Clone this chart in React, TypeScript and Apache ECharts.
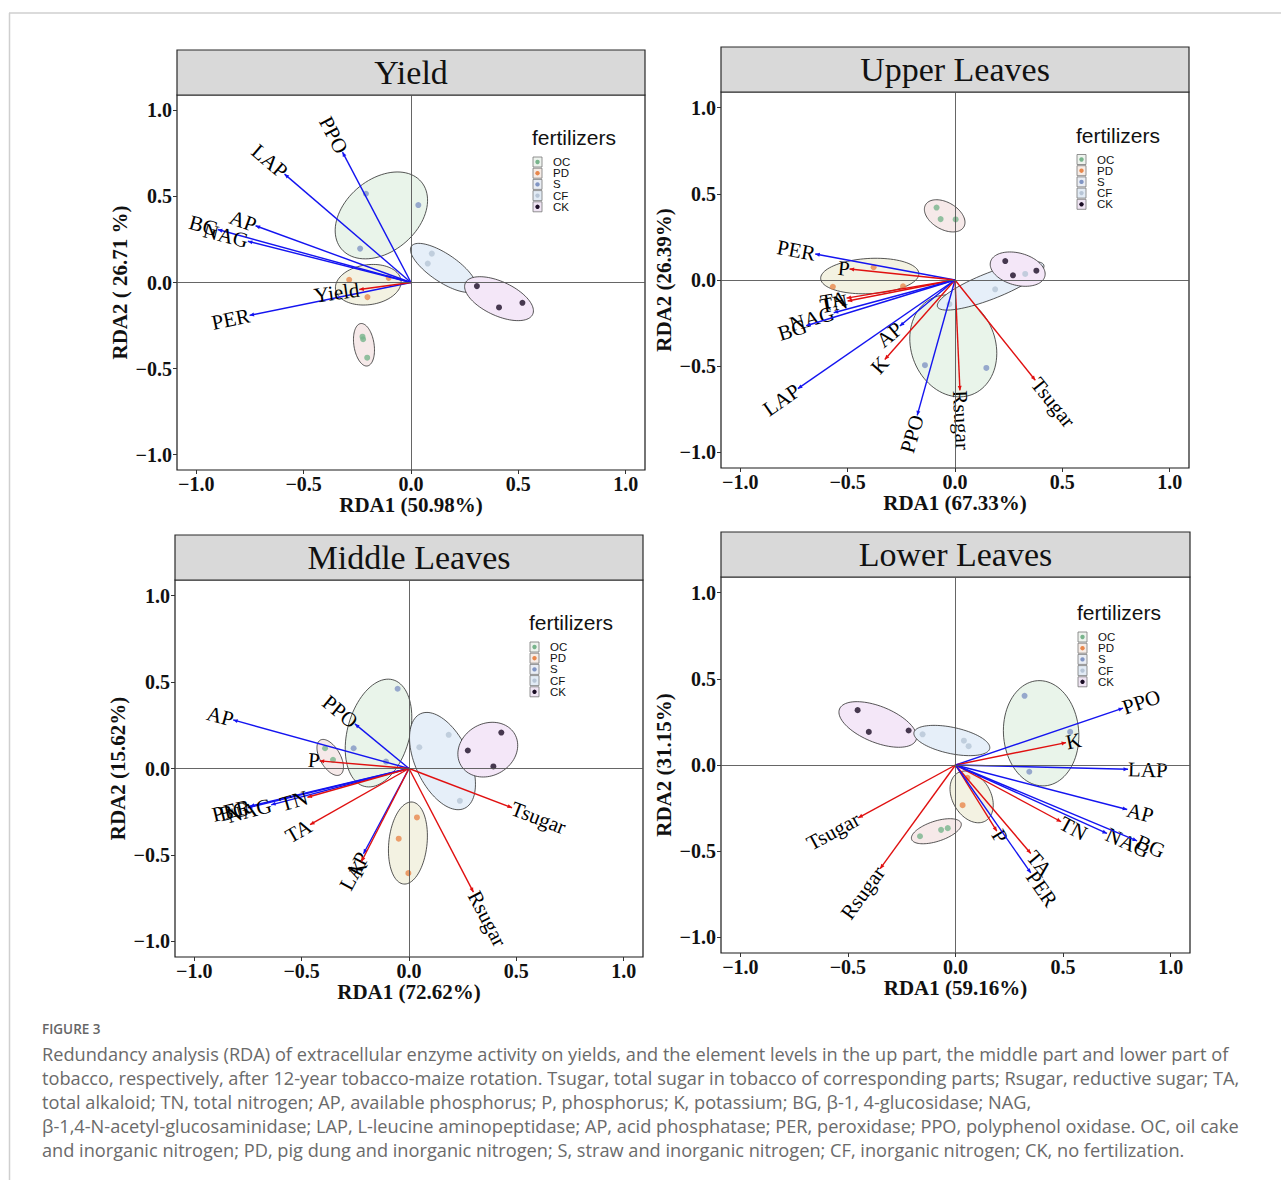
import React, { useEffect, useRef } from 'react';
import * as echarts from 'echarts';

// ---------- data ----------
const groups = ['OC', 'PD', 'S', 'CF', 'CK'];
const tickValues = [-1, -0.5, 0, 0.5, 1];

const panelTitles = ['Yield', 'Upper Leaves', 'Middle Leaves', 'Lower Leaves'];
const xAxisTitles = ['RDA1 (50.98%)', 'RDA1 (67.33%)', 'RDA1 (72.62%)', 'RDA1 (59.16%)'];
const yAxisTitles = ['RDA2 ( 26.71 %)', 'RDA2 (26.39%)', 'RDA2 (15.62%)', 'RDA2 (31.15%)'];

// vectors: [label, RDA1, RDA2, kind]  kind E = enzyme (blue), R = response (red)
const yieldVectors: [string, number, number, string][] = [
  ['PPO', -0.319, 0.758, 'E'],
  ['LAP', -0.589, 0.63, 'E'],
  ['AP', -0.724, 0.33, 'E'],
  ['BG', -0.9, 0.308, 'E'],
  ['NAG', -0.76, 0.24, 'E'],
  ['PER', -0.752, -0.191, 'E'],
  ['Yield', -0.241, -0.041, 'R'],
];
const upperVectors: [string, number, number, string][] = [
  ['PER', -0.651, 0.151, 'E'],
  ['P', -0.491, 0.064, 'R'],
  ['TA', -0.505, -0.105, 'R'],
  ['TN', -0.5, -0.122, 'R'],
  ['NAG', -0.565, -0.19, 'E'],
  ['BG', -0.693, -0.265, 'E'],
  ['AP', -0.257, -0.267, 'E'],
  ['K', -0.327, -0.461, 'R'],
  ['LAP', -0.732, -0.63, 'E'],
  ['PPO', -0.176, -0.785, 'E'],
  ['Rsugar', 0.023, -0.64, 'R'],
  ['Tsugar', 0.374, -0.581, 'R'],
];
const middleVectors: [string, number, number, string][] = [
  ['AP', -0.819, 0.281, 'E'],
  ['PPO', -0.252, 0.258, 'E'],
  ['P', -0.416, 0.044, 'R'],
  ['PER', -0.741, -0.218, 'E'],
  ['BG', -0.751, -0.227, 'E'],
  ['NAG', -0.642, -0.21, 'E'],
  ['TN', -0.473, -0.166, 'R'],
  ['TA', -0.461, -0.325, 'R'],
  ['LAP', -0.212, -0.493, 'E'],
  ['K', -0.221, -0.538, 'R'],
  ['Tsugar', 0.48, -0.227, 'R'],
  ['Rsugar', 0.3, -0.715, 'R'],
];
const lowerVectors: [string, number, number, string][] = [
  ['PPO', 0.779, 0.33, 'E'],
  ['K', 0.514, 0.13, 'R'],
  ['LAP', 0.802, -0.025, 'E'],
  ['AP', 0.798, -0.258, 'E'],
  ['TN', 0.491, -0.329, 'R'],
  ['NAG', 0.704, -0.397, 'E'],
  ['BG', 0.844, -0.44, 'E'],
  ['P', 0.192, -0.384, 'R'],
  ['TA', 0.35, -0.513, 'R'],
  ['PER', 0.35, -0.626, 'E'],
  ['Tsugar', -0.452, -0.306, 'R'],
  ['Rsugar', -0.35, -0.601, 'R'],
];

// site scores: [fertilizer, RDA1, RDA2]
const yieldScores: [string, number, number][] = [
  ['S', -0.21, 0.516], ['S', 0.034, 0.45], ['S', -0.237, 0.197],
  ['CF', 0.097, 0.168], ['CF', 0.078, 0.11],
  ['CK', 0.307, -0.021], ['CK', 0.41, -0.145], ['CK', 0.519, -0.118],
  ['PD', -0.288, 0.016], ['PD', -0.104, 0.027], ['PD', -0.203, -0.085],
  ['OC', -0.226, -0.315], ['OC', -0.223, -0.33], ['OC', -0.204, -0.437],
];
const upperScores: [string, number, number][] = [
  ['OC', -0.086, 0.42], ['OC', -0.067, 0.353], ['OC', 0.003, 0.351],
  ['PD', -0.379, 0.074], ['PD', -0.569, -0.039], ['PD', -0.242, -0.037],
  ['S', -0.14, -0.494], ['S', 0.146, -0.51],
  ['CF', -0.026, -0.14], ['CF', 0.187, -0.054], ['CF', 0.327, 0.035],
  ['CK', 0.234, 0.11], ['CK', 0.27, 0.027], ['CK', 0.379, 0.054],
];
const middleScores: [string, number, number][] = [
  ['OC', -0.391, 0.117], ['OC', -0.354, 0.05],
  ['S', -0.053, 0.461], ['S', -0.258, 0.117], ['S', -0.107, 0.04],
  ['CF', 0.048, 0.123], ['CF', 0.185, 0.195], ['CF', 0.237, -0.187],
  ['CK', 0.274, 0.104], ['CK', 0.43, 0.208], ['CK', 0.393, 0.012],
  ['PD', 0.037, -0.283], ['PD', -0.048, -0.406], ['PD', -0.003, -0.605],
];
const lowerScores: [string, number, number][] = [
  ['CK', -0.455, 0.318], ['CK', -0.403, 0.192], ['CK', -0.218, 0.2],
  ['CF', -0.153, 0.178], ['CF', 0.039, 0.141], ['CF', 0.061, 0.109],
  ['S', 0.321, 0.401], ['S', 0.533, 0.192], ['S', 0.343, -0.039],
  ['PD', 0.056, -0.074], ['PD', 0.033, -0.233],
  ['OC', -0.165, -0.413], ['OC', -0.067, -0.376], ['OC', -0.036, -0.366],
];

// confidence ellipses: [fertilizer, centre RDA1, centre RDA2, semi-major, semi-minor, angle deg]
const yieldEllipses: [string, number, number, number, number, number][] = [
  ['S', -0.138, 0.39, 0.243, 0.168, 40],
  ['CF', 0.151, 0.085, 0.18, 0.065, -34],
  ['CK', 0.41, -0.094, 0.173, 0.079, -25],
  ['PD', -0.199, -0.013, 0.154, 0.093, 8],
  ['OC', -0.219, -0.362, 0.1, 0.047, 99],
];
const upperEllipses: [string, number, number, number, number, number][] = [
  ['OC', -0.048, 0.372, 0.103, 0.063, -30],
  ['PD', -0.397, 0.023, 0.229, 0.082, 3],
  ['S', -0.008, -0.382, 0.243, 0.196, -69],
  ['CF', 0.166, -0.034, 0.266, 0.061, 21.5],
  ['CK', 0.292, 0.063, 0.131, 0.075, -15],
];
const middleEllipses: [string, number, number, number, number, number][] = [
  ['OC', -0.367, 0.064, 0.093, 0.047, -60],
  ['S', -0.142, 0.205, 0.257, 0.145, 75],
  ['CF', 0.156, 0.043, 0.243, 0.126, -65],
  ['CK', 0.367, 0.109, 0.145, 0.121, 30],
  ['PD', -0.005, -0.431, 0.192, 0.089, 84],
];
const lowerEllipses: [string, number, number, number, number, number][] = [
  ['CK', -0.361, 0.235, 0.192, 0.084, -22],
  ['CF', -0.017, 0.142, 0.18, 0.061, -12],
  ['S', 0.398, 0.184, 0.245, 0.175, 94],
  ['PD', 0.075, -0.185, 0.129, 0.089, -60],
  ['OC', -0.089, -0.384, 0.121, 0.047, 18],
];

const captionLines = [
  'Redundancy analysis (RDA) of extracellular enzyme activity on yields, and the element levels in the up part, the middle part and lower part of',
  'tobacco, respectively, after 12-year tobacco-maize rotation. Tsugar, total sugar in tobacco of corresponding parts; Rsugar, reductive sugar; TA,',
  'total alkaloid; TN, total nitrogen; AP, available phosphorus; P, phosphorus; K, potassium; BG, \u03b2-1, 4-glucosidase; NAG,',
  '\u03b2-1,4-N-acetyl-glucosaminidase; LAP, L-leucine aminopeptidase; AP, acid phosphatase; PER, peroxidase; PPO, polyphenol oxidase. OC, oil cake',
  'and inorganic nitrogen; PD, pig dung and inorganic nitrogen; S, straw and inorganic nitrogen; CF, inorganic nitrogen; CK, no fertilization.',
];

// ---------- styles / layout ----------
const pointColors = ['#78b48c', '#e8874c', '#8195c4', '#b7c5d6', '#1a0c24'];
const ellipseFills = ['#f6e9e9', '#f3f2e2', '#e9f4ea', '#e6eff9', '#f4e7f8'];
const legendFills = ['#eef3ee', '#f6ece6', '#e9edf4', '#e2ebf5', '#efe4f3'];
const arrowColors = ['#1414f0', '#e01010'];
const SERIF = "'Liberation Serif', 'Times New Roman', serif";
const SANS = "'Liberation Sans', Arial, sans-serif";

const gridLayout = [
  { left: 177, top: 95, width: 468, height: 375 },
  { left: 721, top: 92, width: 468, height: 376 },
  { left: 175, top: 580, width: 468, height: 377 },
  { left: 721, top: 577, width: 469, height: 376 },
];
const stripHeights = [45, 45, 45, 45];
const legendLayout = [
  { x: 532, titleY: 137, rowY: 162 },
  { x: 1076, titleY: 135, rowY: 159.5 },
  { x: 529, titleY: 622, rowY: 647 },
  { x: 1077, titleY: 612, rowY: 637 },
];

const panels = [
  { vectors: yieldVectors, scores: yieldScores, ellipses: yieldEllipses },
  { vectors: upperVectors, scores: upperScores, ellipses: upperEllipses },
  { vectors: middleVectors, scores: middleScores, ellipses: middleEllipses },
  { vectors: lowerVectors, scores: lowerScores, ellipses: lowerEllipses },
];

const fmt = (v: number) => v.toFixed(1).replace('-', '\u2212');

function buildOption() {
  const grid: any[] = [];
  const xAxis: any[] = [];
  const yAxis: any[] = [];
  const series: any[] = [];
  const graphic: any[] = [];

  // page frame
  graphic.push({ type: 'line', silent: true, shape: { x1: 9, y1: 13, x2: 1281, y2: 13 }, style: { stroke: '#cfcfcf', lineWidth: 1.5 } });
  graphic.push({ type: 'line', silent: true, shape: { x1: 9.5, y1: 13, x2: 9.5, y2: 1180 }, style: { stroke: '#cfcfcf', lineWidth: 1.5 } });

  panels.forEach((p, i) => {
    const g = gridLayout[i];
    grid.push({ ...g, show: true, borderColor: '#1a1a1a', borderWidth: 1.2, backgroundColor: '#ffffff' });
    const axisCommon = {
      type: 'value',
      gridIndex: i,
      min: -1.09,
      max: 1.09,
      nameLocation: 'middle',
      nameTextStyle: { fontFamily: SERIF, fontWeight: 'bold', fontSize: 21, color: '#111' },
      axisLine: { show: false, onZero: false },
      axisTick: { show: true, length: 4, customValues: tickValues, lineStyle: { color: '#333', width: 1 } },
      axisLabel: { customValues: tickValues, formatter: fmt, fontFamily: SERIF, fontWeight: 'bold', fontSize: 20, color: '#111' },
      splitLine: { show: false },
    };
    xAxis.push({ ...axisCommon, name: xAxisTitles[i], nameGap: 22, axisLabel: { ...axisCommon.axisLabel, margin: 4 } });
    yAxis.push({ ...axisCommon, name: yAxisTitles[i], nameGap: 47, nameRotate: 90, axisLabel: { ...axisCommon.axisLabel, margin: 5 } });

    // ellipses
    series.push({
      type: 'custom',
      xAxisIndex: i,
      yAxisIndex: i,
      z: 1,
      silent: true,
      clip: false,
      data: p.ellipses.map((e) => [e[1], e[2], e[3], e[4], e[5], groups.indexOf(e[0])]),
      encode: { x: 0, y: 1 },
      renderItem: (params: any, api: any) => {
        const c = api.coord([api.value(0), api.value(1)]);
        const k = api.size([1, 0])[0];
        const a = api.value(2) * k;
        const b = api.value(3) * k;
        const phi = (api.value(4) * Math.PI) / 180;
        const gi = api.value(5);
        const pts: number[][] = [];
        for (let j = 0; j < 90; j++) {
          const t = (j / 90) * Math.PI * 2;
          const ex = a * Math.cos(t);
          const ey = b * Math.sin(t);
          pts.push([c[0] + ex * Math.cos(phi) - ey * Math.sin(phi), c[1] - (ex * Math.sin(phi) + ey * Math.cos(phi))]);
        }
        return { type: 'polygon', shape: { points: pts }, style: { fill: ellipseFills[gi], stroke: '#2b2b2b', lineWidth: 0.8 } };
      },
    });

    // points + zero lines
    series.push({
      type: 'scatter',
      xAxisIndex: i,
      yAxisIndex: i,
      z: 3,
      silent: true,
      symbolSize: 6,
      data: p.scores.map((s) => ({ value: [s[1], s[2]], itemStyle: { color: pointColors[groups.indexOf(s[0])] } })),
      markLine: {
        silent: true,
        symbol: ['none', 'none'],
        label: { show: false },
        lineStyle: { color: '#555', width: 0.9, type: 'solid' },
        data: [{ xAxis: 0 }, { yAxis: 0 }],
      },
    });

    // vectors
    series.push({
      type: 'custom',
      xAxisIndex: i,
      yAxisIndex: i,
      z: 4,
      silent: true,
      clip: false,
      data: p.vectors.map((v) => [v[1], v[2], v[3] === 'E' ? 0 : 1]),
      encode: { x: 0, y: 1 },
      renderItem: (params: any, api: any) => {
        const o = api.coord([0, 0]);
        const t = api.coord([api.value(0), api.value(1)]);
        const col = arrowColors[api.value(2)];
        const th = Math.atan2(t[1] - o[1], t[0] - o[0]);
        const h = 4.5;
        const w = 2;
        const cx = Math.cos(th);
        const sy = Math.sin(th);
        const head = [
          [t[0], t[1]],
          [t[0] - h * cx + w * sy, t[1] - h * sy - w * cx],
          [t[0] - h * cx - w * sy, t[1] - h * sy + w * cx],
        ];
        const left = t[0] < o[0];
        const label = p.vectors[params.dataIndex][0];
        return {
          type: 'group',
          children: [
            { type: 'line', shape: { x1: o[0], y1: o[1], x2: t[0], y2: t[1] }, style: { stroke: col, lineWidth: 1.4 } },
            { type: 'polygon', shape: { points: head }, style: { fill: col } },
            {
              type: 'text',
              x: t[0],
              y: t[1],
              rotation: left ? -(th + Math.PI) : -th,
              style: { text: label, align: left ? 'right' : 'left', verticalAlign: 'middle', font: `21px ${SERIF}`, fill: '#000' },
            },
          ],
        };
      },
    });

    // title strip
    graphic.push({
      type: 'rect',
      silent: true,
      shape: { x: g.left, y: g.top - stripHeights[i], width: g.width, height: stripHeights[i] },
      style: { fill: '#d9d9d9', stroke: '#2a2a2a', lineWidth: 1.2 },
    });
    graphic.push({
      type: 'text',
      silent: true,
      x: g.left + g.width / 2,
      y: g.top - stripHeights[i] / 2,
      style: { text: panelTitles[i], align: 'center', verticalAlign: 'middle', font: `34px ${SERIF}`, fill: '#111' },
    });

    // legend
    const L = legendLayout[i];
    graphic.push({
      type: 'text',
      silent: true,
      x: L.x,
      y: L.titleY,
      style: { text: 'fertilizers', align: 'left', verticalAlign: 'middle', font: `21px ${SANS}`, fill: '#111' },
    });
    groups.forEach((gname, gi) => {
      const cy = L.rowY + gi * 11.2;
      graphic.push({
        type: 'rect',
        silent: true,
        shape: { x: L.x + 1, y: cy - 5, width: 9, height: 10 },
        style: { fill: legendFills[gi], stroke: '#777', lineWidth: 0.8 },
      });
      graphic.push({ type: 'circle', silent: true, shape: { cx: L.x + 5.5, cy, r: 2.2 }, style: { fill: pointColors[gi] } });
      graphic.push({
        type: 'text',
        silent: true,
        x: L.x + 21,
        y: cy,
        style: { text: gname, align: 'left', verticalAlign: 'middle', font: `11.5px ${SANS}`, lineHeight: 11, fill: '#111' },
      });
    });
  });

  // caption
  graphic.push({
    type: 'text',
    silent: true,
    x: 42,
    y: 1029,
    style: { text: 'FIGURE 3', align: 'left', verticalAlign: 'middle', font: `600 13.5px 'Open Sans', ${SANS}`, fill: '#666' },
  });
  captionLines.forEach((line, li) => {
    graphic.push({
      type: 'text',
      silent: true,
      x: 42,
      y: 1054 + li * 24,
      style: { text: line, align: 'left', verticalAlign: 'middle', font: `18.2px 'Open Sans', ${SANS}`, fill: '#6a6a6a' },
    });
  });

  return { animation: false, backgroundColor: '#ffffff', grid, xAxis, yAxis, series, graphic };
}

export default function App() {
  const ref = useRef<HTMLDivElement>(null);
  useEffect(() => {
    if (!ref.current) return;
    const chart = echarts.init(ref.current, undefined, { renderer: 'svg' });
    chart.setOption(buildOption() as any);
    return () => chart.dispose();
  }, []);
  return <div ref={ref} style={{ position: 'fixed', left: 0, top: 0, width: 1281, height: 1180, background: '#fff' }} />;
}
